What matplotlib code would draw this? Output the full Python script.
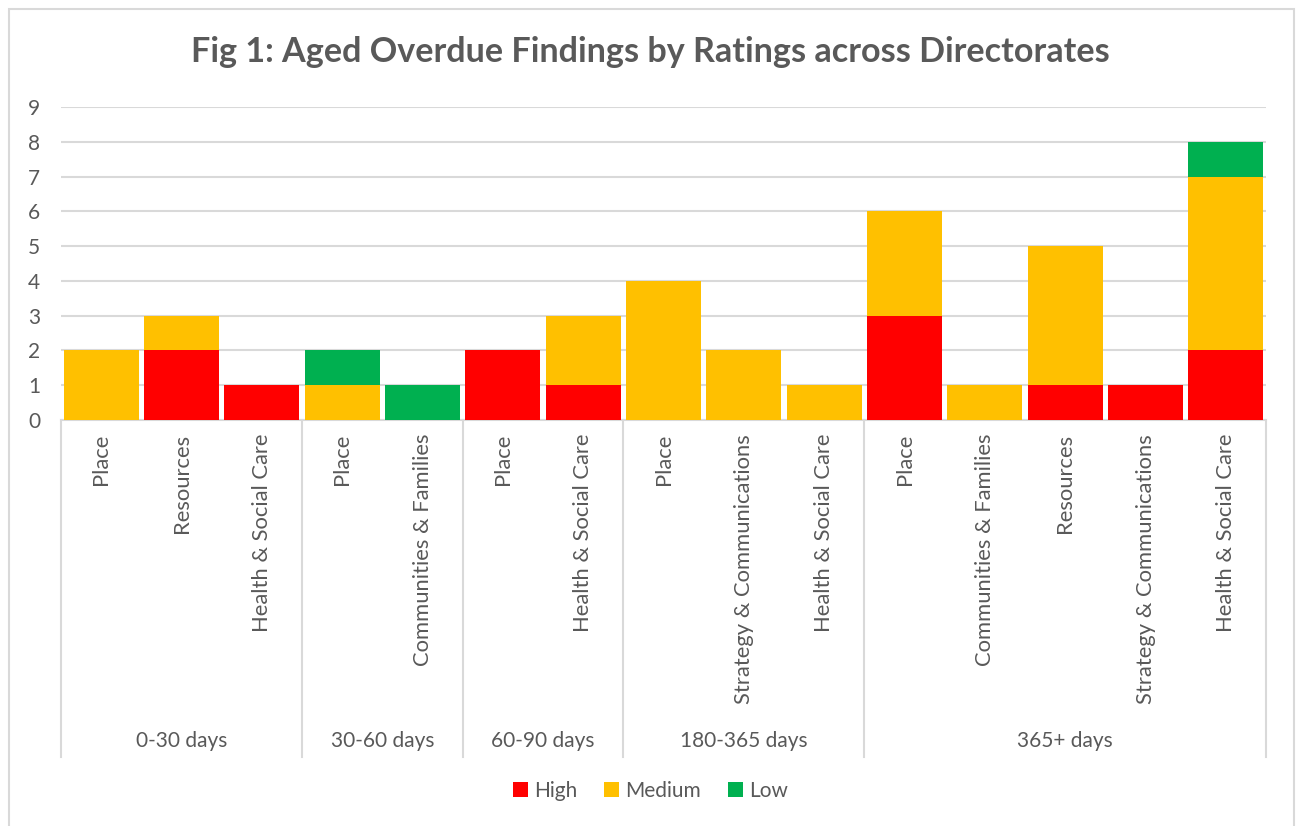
import matplotlib.pyplot as plt
from matplotlib.patches import Rectangle
from matplotlib.lines import Line2D

# Data
groups = ["0-30 days", "30-60 days", "60-90 days", "180-365 days", "365+ days"]
group_sizes = [3, 2, 2, 3, 5]
directorates = ["Place", "Resources", "Health & Social Care",
                "Place", "Communities & Families",
                "Place", "Health & Social Care",
                "Place", "Strategy & Communications", "Health & Social Care",
                "Place", "Communities & Families", "Resources",
                "Strategy & Communications", "Health & Social Care"]
high = [0, 2, 1, 0, 0, 2, 1, 0, 0, 0, 3, 0, 1, 1, 2]
medium = [2, 1, 0, 1, 0, 0, 2, 4, 2, 1, 3, 1, 4, 0, 5]
low = [0, 0, 0, 1, 1, 0, 0, 0, 0, 0, 0, 0, 0, 0, 1]

plt.rcParams['font.family'] = ['Lato', 'DejaVu Sans']
text_color = '#595959'
grid_color = '#D9D9D9'

fig = plt.figure(figsize=(13.01, 8.26), dpi=100)
ax = fig.add_axes([61 / 1301, 1 - 420 / 826, (1266 - 61) / 1301, (420 - 107) / 826])

x = list(range(len(directorates)))
bottom_low = [h + m for h, m in zip(high, medium)]
w = 0.93
ax.bar(x, high, width=w, color='#FF0000', label='High', zorder=3)
ax.bar(x, medium, width=w, bottom=high, color='#FFC000', label='Medium', zorder=3)
ax.bar(x, low, width=w, bottom=bottom_low, color='#00B050', label='Low', zorder=3)

ax.set_xlim(-0.5, len(directorates) - 0.5)
ax.set_ylim(0, 9)
ax.set_yticks(range(10))
ax.yaxis.grid(True, color=grid_color, linewidth=1.5, zorder=0)
ax.tick_params(axis='y', length=0, labelsize=15, labelcolor=text_color, pad=15)
ax.set_xticks([])
for s in ['top', 'right', 'left']:
    ax.spines[s].set_visible(False)
ax.spines['bottom'].set_color(grid_color)
ax.spines['bottom'].set_linewidth(1.5)

# multi-level category axis
trans = ax.get_xaxis_transform()
label_top = -14 / 313
group_y = -321 / 313
line_bottom = -337 / 313
for i, name in enumerate(directorates):
    ax.text(i, label_top, name, rotation=90, ha='center', va='top',
            fontsize=15.8, color=text_color, transform=trans)

start = 0
edges = [-0.5]
for g, n in zip(groups, group_sizes):
    center = start + (n - 1) / 2
    ax.text(center, group_y, g, ha='center', va='center', fontsize=15,
            color=text_color, transform=trans)
    start += n
    edges.append(start - 0.5)
for e in edges:
    ax.add_line(Line2D([e, e], [0, line_bottom], transform=trans, color=grid_color,
                       linewidth=1.5, clip_on=False))

fig.text(0.5, 1 - 52 / 826, "Fig 1: Aged Overdue Findings by Ratings across Directorates",
         ha='center', va='center', fontsize=24.6, fontweight='bold', color=text_color)

fig.legend(loc='center', bbox_to_anchor=(0.5, 1 - 791 / 826), ncol=3, frameon=False,
           fontsize=15, labelcolor=text_color, handlelength=0.7, handleheight=0.7,
           handletextpad=0.3, columnspacing=1.3)

fig.patches.append(Rectangle((9 / 1301, -0.01), (1294 - 9) / 1301, 1 - 9 / 826 + 0.01,
                             transform=fig.transFigure, fill=False,
                             edgecolor=grid_color, linewidth=1.5))

fig.savefig('out.png', dpi=100)
